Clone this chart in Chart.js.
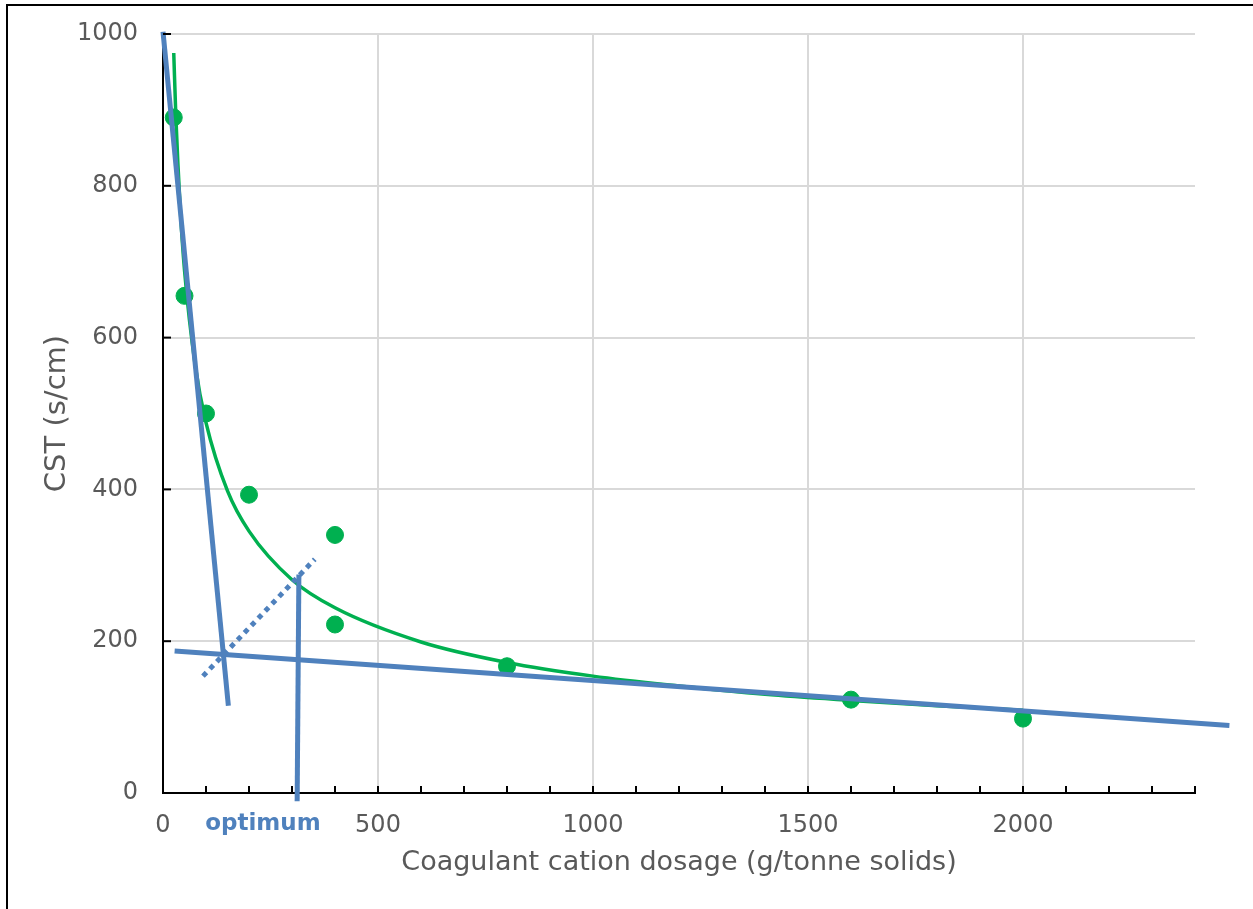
<!DOCTYPE html>
<html>
<head>
<meta charset="utf-8">
<script src="https://cdn.jsdelivr.net/npm/chart.js@4"></script>
<style>
  body { margin: 0; background: #fff; }
  #wrap { position: relative; width: 1253px; height: 909px; }
  #frame { position: absolute; left: 6px; top: 4px; right: -10px; bottom: -10px;
           border-top: 2px solid #000; border-left: 2px solid #000; pointer-events: none; }
  canvas { position: absolute; left: 0; top: 0; }
</style>
</head>
<body>
<div id="wrap">
  <canvas id="chart" width="1253" height="909"></canvas>
  <div id="frame"></div>
</div>
<script>
// Measured CST values
const dosage = [25, 50, 100, 200, 400, 400, 800, 1600, 2000];
const cst = [890, 655, 500, 393, 340, 222, 167, 123, 98];

// Green fitted trend curve
const fitX = [25, 30, 40, 50, 75, 100, 150, 200, 300, 400, 600, 800, 1000, 1200, 1400, 1600, 1800, 2000];
const fitY = [975, 890, 771, 689, 563, 488, 398, 345, 281, 244, 199, 172, 154, 141, 130, 122, 115, 109];

// Blue construction lines
const steepX = [0, 152];
const steepY = [1003, 115];
const flatX = [27, 2480];
const flatY = [187, 89];
const bisectX = [93, 353];
const bisectY = [154, 308];
const optimumX = [316, 312];
const optimumY = [288, -11];

const optimumLabel = "optimum";
const optimumLabelX = 230;

const xTicks = [0, 500, 1000, 1500, 2000];
const yTicks = [0, 200, 400, 600, 800, 1000];

const blue = "#4f81bd";
const green = "#00b050";
const gridGrey = "#d9d9d9";
const textGrey = "#595959";

function pts(xs, ys) {
  return xs.map(function (x, i) { return { x: x, y: ys[i] }; });
}

function blueLine(xs, ys, dash) {
  return {
    type: "line",
    data: pts(xs, ys),
    borderColor: blue,
    backgroundColor: blue,
    borderWidth: 5,
    borderDash: dash || [],
    pointRadius: 0,
    showLine: true,
    fill: false,
    clip: false,
  };
}

// inward tick marks plus the optimum label
const extras = {
  id: "extras",
  afterDraw(chart) {
    const ctx = chart.ctx;
    const xs = chart.scales.x;
    const ys = chart.scales.y;
    const area = chart.chartArea;
    ctx.save();
    ctx.strokeStyle = "#000";
    ctx.lineWidth = 2;
    xs.ticks.forEach(function (t) {
      const px = xs.getPixelForValue(t.value);
      ctx.beginPath();
      ctx.moveTo(px, area.bottom);
      ctx.lineTo(px, area.bottom - 7);
      ctx.stroke();
    });
    ys.ticks.forEach(function (t) {
      const py = ys.getPixelForValue(t.value);
      ctx.beginPath();
      ctx.moveTo(area.left, py);
      ctx.lineTo(area.left + 8, py);
      ctx.stroke();
    });
    ctx.fillStyle = blue;
    ctx.font = "bold 23px 'DejaVu Sans'";
    ctx.textAlign = "center";
    ctx.textBaseline = "middle";
    ctx.fillText(optimumLabel, xs.getPixelForValue(optimumLabelX) + 1, area.bottom + 31);
    ctx.restore();
  },
};

new Chart(document.getElementById("chart"), {
  type: "scatter",
  data: {
    datasets: [
      blueLine(steepX, steepY),
      blueLine(flatX, flatY),
      blueLine(bisectX, bisectY, [5, 5]),
      blueLine(optimumX, optimumY),
      {
        type: "line",
        data: pts(fitX, fitY),
        borderColor: green,
        borderWidth: 3.5,
        pointRadius: 0,
        cubicInterpolationMode: "monotone",
        fill: false,
      },
      {
        data: pts(dosage, cst),
        backgroundColor: green,
        borderColor: green,
        pointRadius: 8.5,
        pointHoverRadius: 8.5,
      },
    ],
  },
  options: {
    responsive: false,
    animation: false,
    layout: { padding: { left: 10, right: 58, top: 34, bottom: 0 } },
    plugins: {
      legend: { display: false },
      tooltip: { enabled: false },
    },
    scales: {
      x: {
        type: "linear",
        min: 0,
        max: 2400,
        afterFit: function (scale) { scale.height = 116; },
        afterBuildTicks: function (scale) {
          const t = [];
          for (let v = 0; v <= 2400; v += 100) t.push({ value: v });
          scale.ticks = t;
        },
        ticks: {
          autoSkip: false,
          maxRotation: 0,
          padding: 18,
          color: textGrey,
          font: { family: "DejaVu Sans", size: 24 },
          callback: function (v) { return xTicks.indexOf(v) >= 0 ? String(v) : ""; },
        },
        grid: {
          drawTicks: false,
          lineWidth: 2,
          color: function (c) {
            const v = c.tick ? c.tick.value : -1;
            return v > 0 && v < 2400 && v % 500 === 0 ? gridGrey : "rgba(0,0,0,0)";
          },
        },
        border: { color: "#000", width: 2 },
        title: {
          display: true,
          text: "Coagulant cation dosage (g/tonne solids)",
          color: textGrey,
          font: { family: "DejaVu Sans", size: 27 },
          padding: { top: 0, bottom: 30 },
        },
      },
      y: {
        min: 0,
        max: 1000,
        afterFit: function (scale) { scale.width = 153; },
        afterBuildTicks: function (scale) {
          scale.ticks = yTicks.map(function (v) { return { value: v }; });
        },
        ticks: {
          padding: 5,
          color: textGrey,
          font: { family: "DejaVu Sans", size: 24 },
          callback: function (v) { return String(v); },
        },
        grid: {
          drawTicks: true,
          tickLength: 20,
          tickColor: "rgba(0,0,0,0)",
          lineWidth: 2,
          color: function (c) {
            return c.tick && c.tick.value > 0 ? gridGrey : "rgba(0,0,0,0)";
          },
        },
        border: { color: "#000", width: 2 },
        title: {
          display: true,
          text: "CST (s/cm)",
          color: textGrey,
          font: { family: "DejaVu Sans", size: 29 },
          padding: { top: 30, bottom: 0 },
        },
      },
    },
  },
  plugins: [extras],
});
</script>
</body>
</html>
